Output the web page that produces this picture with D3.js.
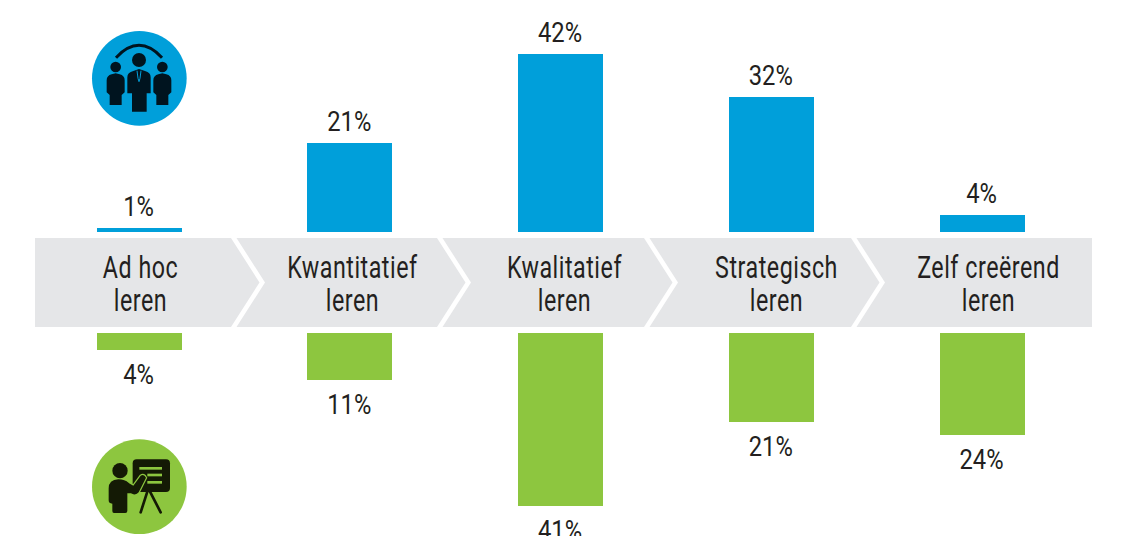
<!DOCTYPE html>
<html>
<head>
<meta charset="utf-8">
<script src="https://cdn.jsdelivr.net/npm/d3@7"></script>
<style>
  html, body { margin: 0; padding: 0; background: #fff; overflow: hidden; }
  text { font-family: Roboto, "Liberation Sans", sans-serif; font-weight: 400; fill: #231f20; }
</style>
</head>
<body>
<div id="plot"></div>
<script>
// values
const categories = ["Ad hoc", "Kwantitatief", "Kwalitatief", "Strategisch", "Zelf creërend"];
const secondLine = ["leren", "leren", "leren", "leren", "leren"];
const topValues = [1, 21, 42, 32, 4];
const bottomValues = [4, 11, 41, 21, 24];

const width = 1126, height = 536;
const blue = "#009fda", green = "#8dc63f", grey = "#e5e6e8";

const svg = d3.select("#plot")
    .append("svg")
    .attr("width", width)
    .attr("height", height)
    .style("display", "block");

// scales
const x = d3.scaleBand()
    .domain(categories)
    .range([97, 1025])
    .paddingInner(0.5967)
    .paddingOuter(0);

const labelX = d3.scalePoint()
    .domain(categories)
    .range([140.5, 988.5]);

const h = d3.scaleLinear().domain([0, 42]).range([0, 177.7]);

const topBase = 232, bottomBase = 333;

// no condensed face installed, so squeeze the text sideways
function place(px, py, squeeze) {
    return "translate(" + px + "," + py + ") scale(" + squeeze + ",1)";
}

// grey banner
svg.append("rect")
    .attr("x", 35).attr("y", 238)
    .attr("width", 1057).attr("height", 89)
    .attr("fill", grey);

// white chevrons between the steps
const chevronStarts = [231, 437, 644, 851];
svg.append("g")
    .selectAll("path")
    .data(chevronStarts)
    .enter()
    .append("path")
    .attr("fill", "#fff")
    .attr("d", d => "M" + d + " 238 L" + (d + 5.5) + " 238 L" + (d + 34) + " 282.5 L" + (d + 5.5) +
        " 327 L" + d + " 327 L" + (d + 28.5) + " 282.5 Z");

// top bars
svg.append("g")
    .selectAll("rect")
    .data(topValues)
    .enter()
    .append("rect")
    .attr("x", (d, i) => Math.floor(x(categories[i])))
    .attr("y", d => topBase - Math.round(h(d)))
    .attr("width", Math.round(x.bandwidth()))
    .attr("height", d => Math.round(h(d)))
    .attr("fill", blue);

// bottom bars
svg.append("g")
    .selectAll("rect")
    .data(bottomValues)
    .enter()
    .append("rect")
    .attr("x", (d, i) => Math.floor(x(categories[i])))
    .attr("y", bottomBase)
    .attr("width", Math.round(x.bandwidth()))
    .attr("height", d => Math.round(h(d)))
    .attr("fill", green);

// value labels
svg.append("g")
    .selectAll("text")
    .data(topValues)
    .enter()
    .append("text")
    .attr("transform", (d, i) => place(x(categories[i]) + x.bandwidth() / 2 - 1, topBase - h(d) - 12, 0.88))
    .attr("text-anchor", "middle")
    .attr("font-size", 27)
    .text(d => d + "%");

svg.append("g")
    .selectAll("text")
    .data(bottomValues)
    .enter()
    .append("text")
    .attr("transform", (d, i) => place(x(categories[i]) + x.bandwidth() / 2 - 1, bottomBase + h(d) + 34, 0.88))
    .attr("text-anchor", "middle")
    .attr("font-size", 27)
    .text(d => d + "%");

// category labels
const cat = svg.append("g")
    .selectAll("g")
    .data(categories)
    .enter()
    .append("g");

cat.append("text")
    .attr("transform", d => place(labelX(d), 278, 0.75))
    .attr("text-anchor", "middle")
    .attr("font-size", 31)
    .attr("letter-spacing", 0.7)
    .text(d => d);

cat.append("text")
    .attr("transform", d => place(labelX(d), 311, 0.75))
    .attr("text-anchor", "middle")
    .attr("font-size", 31)
    .attr("letter-spacing", 0.7)
    .text((d, i) => secondLine[i]);

// people icon, drawn in the 3x crop units
const people = svg.append("g").attr("transform", "translate(70,15) scale(" + 1 / 3 + ")");
const dark1 = "#00141f";
people.append("circle").attr("cx", 208).attr("cy", 190).attr("r", 142).attr("fill", blue);
people.append("path")
    .attr("d", "M138 128 Q207 54 276 128")
    .attr("fill", "none").attr("stroke", dark1).attr("stroke-width", 9);
people.append("circle").attr("cx", 207).attr("cy", 135).attr("r", 21).attr("fill", dark1);
people.append("path")
    .attr("fill", dark1)
    .attr("d", "M172 187 Q172 172 190 168 L207 162 L225 168 Q242 172 242 187 L242 235 L230 235 L230 290 L186 290 L186 235 L172 235 Z");
people.append("path")
    .attr("fill", "none").attr("stroke", blue).attr("stroke-width", 3)
    .attr("d", "M201 167 L204 190 L207 200 L210 190 L213 167");
[137, 277].forEach(c => {
    people.append("circle").attr("cx", c).attr("cy", 156).attr("r", 16).attr("fill", dark1);
    people.append("path")
        .attr("fill", dark1)
        .attr("d", "M" + (c - 27) + " 196 Q" + (c - 27) + " 182 " + (c - 12) + " 178 L" + c + " 175 L" + (c + 12) +
            " 178 Q" + (c + 27) + " 182 " + (c + 27) + " 196 L" + (c + 27) + " 232 L" + (c + 18) + " 240 L" + (c + 18) +
            " 270 L" + (c - 18) + " 270 L" + (c - 18) + " 240 L" + (c - 27) + " 232 Z");
});

// presenter icon, same units
const presenter = svg.append("g").attr("transform", "translate(70,425) scale(" + 1 / 3 + ")");
const dark2 = "#141a05";
presenter.append("circle").attr("cx", 208).attr("cy", 185).attr("r", 142).attr("fill", green);
presenter.append("rect")
    .attr("x", 188).attr("y", 103).attr("width", 112).attr("height", 98).attr("rx", 12)
    .attr("fill", dark2);
[130, 150, 172].forEach((ly, i) => {
    presenter.append("rect")
        .attr("x", i == 0 ? 208 : 232).attr("y", ly - 4)
        .attr("width", i == 0 ? 68 : 44).attr("height", 8)
        .attr("fill", green);
});
presenter.append("path")
    .attr("fill", "none").attr("stroke", dark2).attr("stroke-width", 8).attr("stroke-linecap", "round")
    .attr("d", "M232 200 L212 262 M240 200 L272 262");
presenter.append("circle").attr("cx", 150).attr("cy", 137).attr("r", 23).attr("fill", dark2);
presenter.append("path")
    .attr("fill", dark2)
    .attr("stroke", green).attr("stroke-width", 7).attr("paint-order", "stroke")
    .attr("d", "M172 172 L190 182 L212 152 Q222 146 228 158 L206 202 Q200 210 190 208 L172 200 Z");
presenter.append("path")
    .attr("fill", dark2)
    .attr("d", "M116 190 Q116 165 145 163 Q165 163 176 174 L182 205 L172 205 L172 258 Q172 264 166 264 L132 264 Q127 264 127 258 L127 236 Q116 236 116 226 Z");
</script>
</body>
</html>
